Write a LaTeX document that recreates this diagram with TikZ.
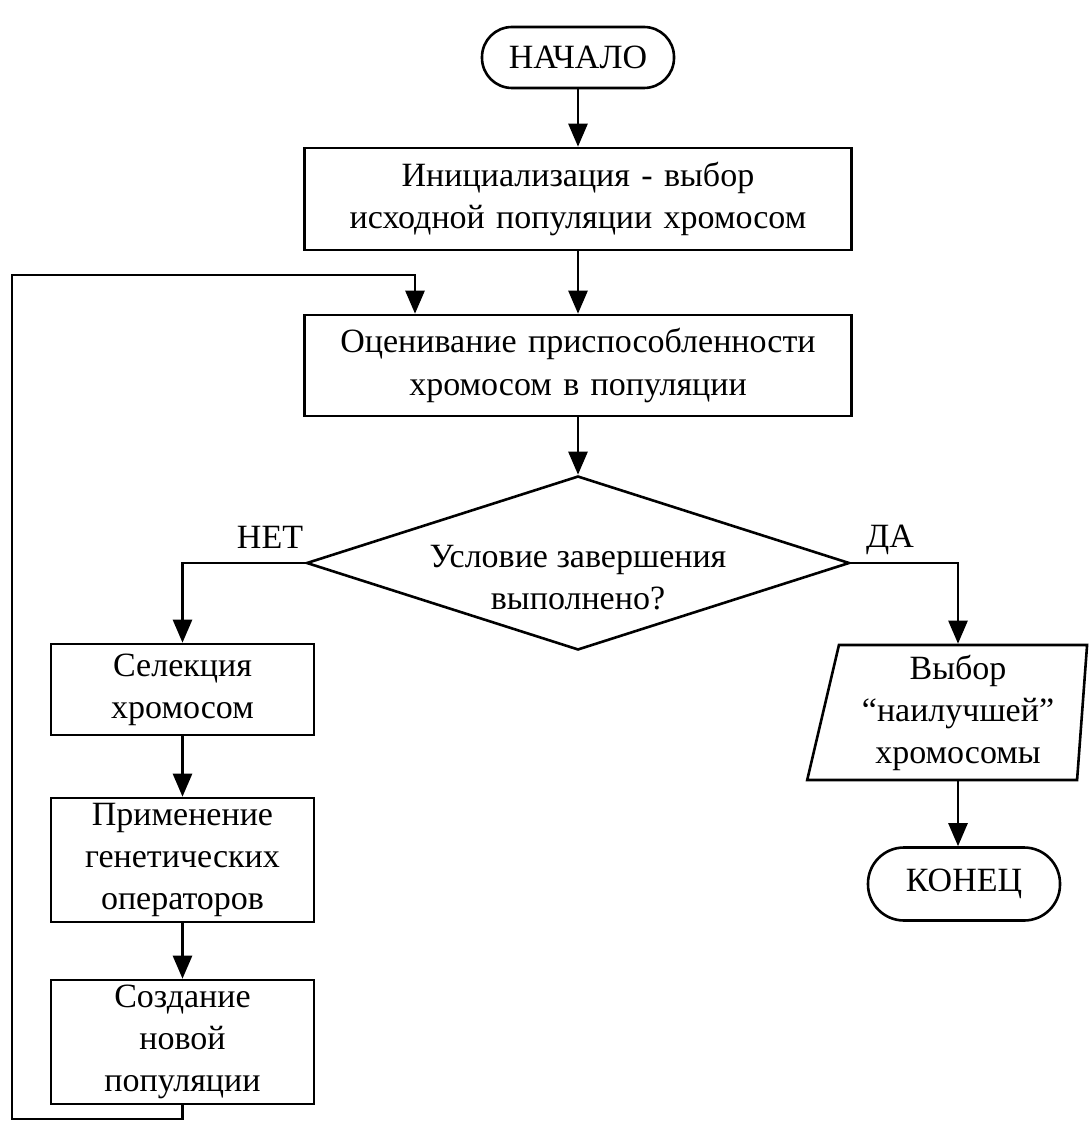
\documentclass[tikz,border=0pt]{standalone}
\usepackage{fontspec}
\setmainfont{Liberation Serif}
\usetikzlibrary{arrows.meta,shapes.geometric}
\begin{document}
\begin{tikzpicture}[x=0.5pt,y=-0.5pt,
  every node/.style={font=\fontsize{17}{21}\selectfont, align=center},
  box/.style={draw, line width=1.3pt, inner sep=0pt, minimum width=#1, text width=#1},
  term/.style={draw, line width=1.3pt, rounded corners=15pt, inner sep=0pt, minimum width=96pt},
  dia/.style={draw, diamond, line width=1.3pt, inner sep=0pt, shape aspect=3.12, minimum width=271.5pt, minimum height=87pt},
  para/.style={draw, trapezium, line width=1.3pt, trapezium left angle=77.5, trapezium right angle=94, trapezium stretches=true, minimum width=140pt, minimum height=67.5pt, inner sep=0pt},
  arr/.style={line width=1.3pt, -{Triangle[length=11.5pt,width=9.5pt]}},
  ln/.style={line width=1.3pt}]
\useasboundingbox (0,0) rectangle (1089,1122);
\node[term, minimum height=30.5pt] (start) at (578,57.5) {НАЧАЛО};
\node[box=273.5pt, minimum height=51pt] (init) at (578,199) {Инициализация - выбор\\исходной популяции хромосом};
\node[box=273.5pt, minimum height=50.5pt] (eval) at (578,365.5) {Оценивание приспособленности\\хромосом в популяции};
\node[dia] (dec) at (578,563) {};
\node (dectext) at (578,578) {Условие завершения\\выполнено?};
\node (no) at (270,537) {НЕТ};
\node (yes) at (890,540) {ДА};
\node[box=131.5pt, minimum height=45.5pt] (sel) at (182.5,689.5) {Селекция\\хромосом};
\node[box=131.5pt, minimum height=62pt] (app) at (182.5,860) {Применение\\генетических\\операторов};
\node[box=131.5pt, minimum height=62pt] (new) at (182.5,1042) {Создание\\новой\\популяции};
\node[para] (out) at (958,712.5) {Выбор\\“наилучшей\symbol{34}\\хромосомы};
\node[term, rounded corners=18pt, minimum height=36.5pt] (end) at (964,884) {КОНЕЦ};
\draw[arr] (start) -- (init);
\draw[arr] (init) -- (eval);
\draw[arr] (eval) -- (dec);
\draw[arr] (dec.west) -| (sel.north);
\draw[arr] (dec.east) -| (958,0 |- out.north);
\draw[arr] (sel) -- (app);
\draw[arr] (app) -- (new);
\draw[arr] (958,0 |- out.south) -- (958,0 |- end.north);
\draw[arr] (new.south) |- (12,1119) -- (12,275) -| (415,0 |- eval.north);
\end{tikzpicture}
\end{document}
